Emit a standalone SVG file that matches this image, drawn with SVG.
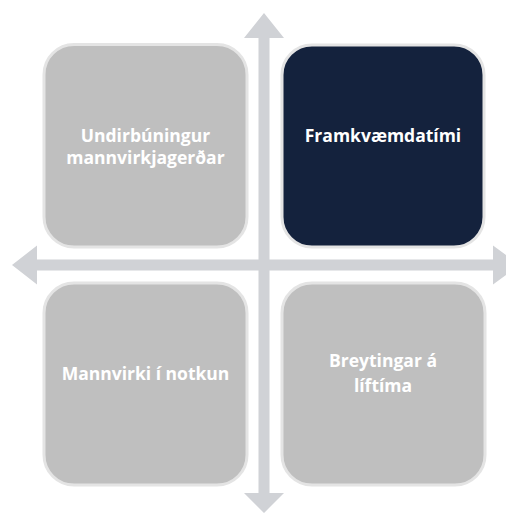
<svg xmlns="http://www.w3.org/2000/svg" width="506" height="514" viewBox="0 0 506 514">
<style>
.box{stroke:#e4e4e4;stroke-width:3}
.gray{fill:#bfbfbf}
.dark{fill:#14223d}
.lbl{font-family:"Open Sans","Liberation Sans",sans-serif;font-weight:bold;font-size:17.5px;fill:#ffffff;text-anchor:middle}
.arr{fill:#d0d2d6}
</style>
<rect width="506" height="514" fill="#ffffff"/>
<g id="connectors">
<polygon class="arr" points="264,13 284,38 269.5,38 269.5,493 284,493 264,513 244,493 258.5,493 258.5,38 244,38"/>
<polygon class="arr" points="12,265 37,245.5 37,259.5 493,259.5 493,245.5 506,255 506,275 493,284.5 493,270.5 37,270.5 37,284.5"/>
</g>
<g id="node-tl">
<rect class="box gray" x="44" y="44.5" width="203" height="202.5" rx="30"/>
<text class="lbl" x="145.5" y="142">Undirbúningur</text>
<text class="lbl" x="145.5" y="164">mannvirkjagerðar</text>
</g>
<g id="node-tr">
<rect class="box dark" x="282" y="45" width="202" height="202" rx="30"/>
<text class="lbl" x="383" y="142">Framkvæmdatími</text>
</g>
<g id="node-bl">
<rect class="box gray" x="44" y="283" width="203" height="202" rx="30"/>
<text class="lbl" x="145.5" y="380">Mannvirki í notkun</text>
</g>
<g id="node-br">
<rect class="box gray" x="282" y="283" width="203" height="202" rx="30"/>
<text class="lbl" x="383" y="367">Breytingar á</text>
<text class="lbl" x="383" y="392">líftíma</text>
</g>
</svg>
